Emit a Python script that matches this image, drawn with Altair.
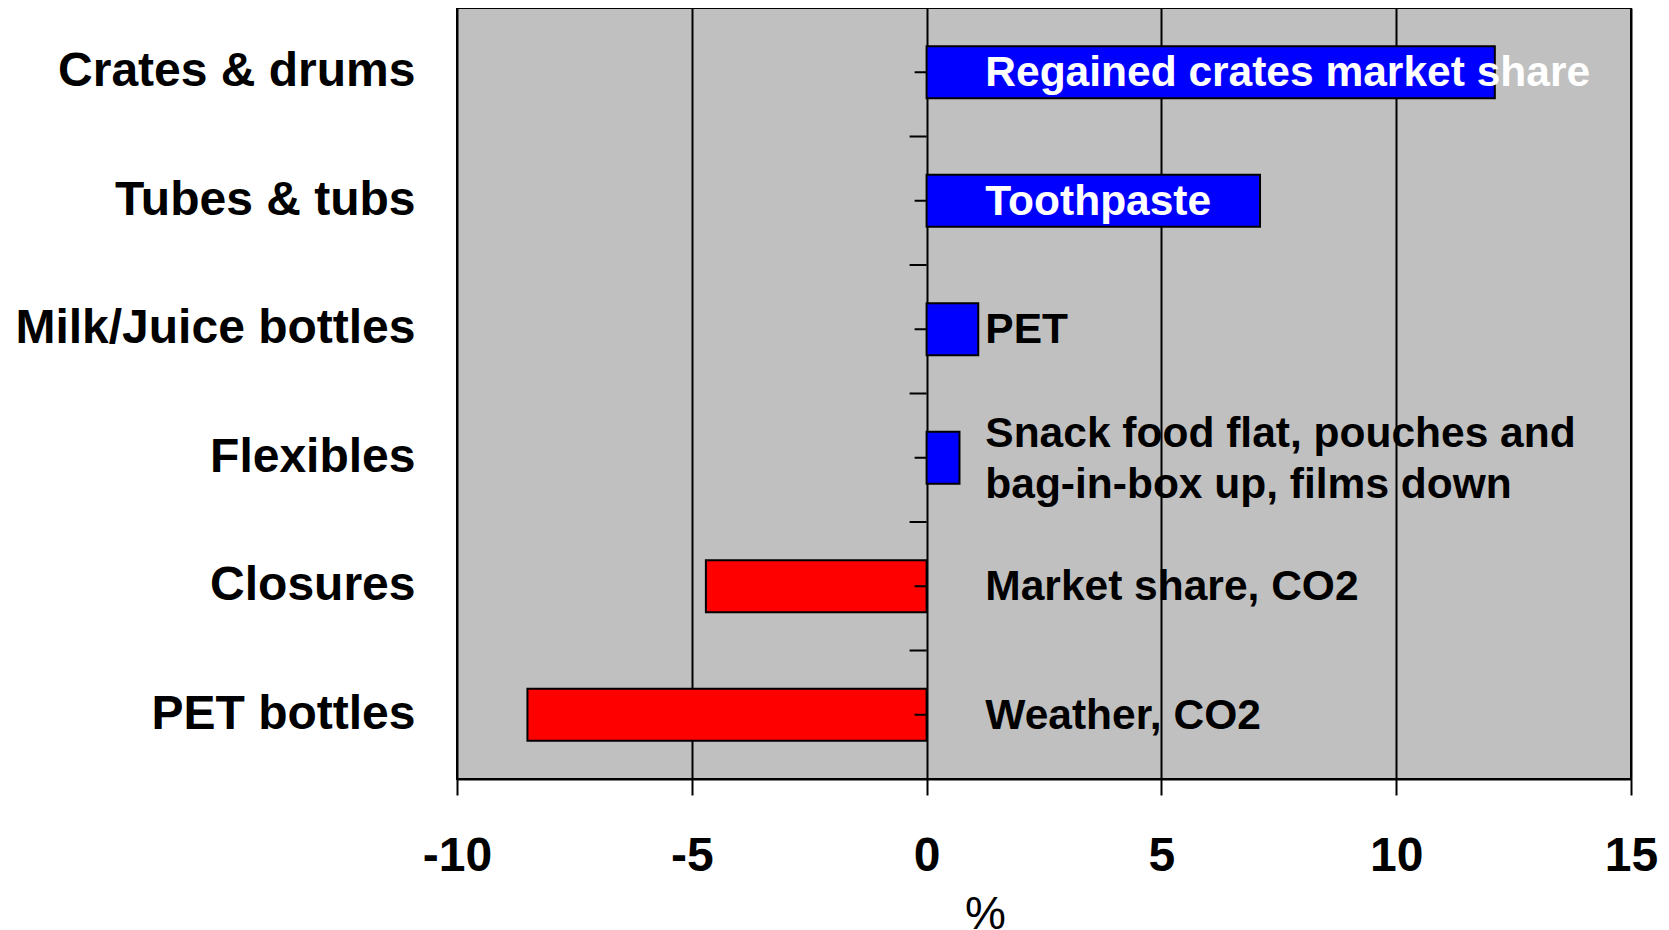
import altair as alt
import pandas as pd

categories = ["Crates & drums", "Tubes & tubs", "Milk/Juice bottles", "Flexibles", "Closures", "PET bottles"]
values = [12.1, 7.1, 1.1, 0.7, -4.7, -8.5]
notes = [
    "Regained crates market share",
    "Toothpaste",
    "PET",
    "Snack food flat, pouches and\nbag-in-box up, films down",
    "Market share, CO2",
    "Weather, CO2",
]
note_colors = ["white", "white", "black", "black", "black", "black"]
bar_colors = ["#0000FF", "#0000FF", "#0000FF", "#0000FF", "#FF0000", "#FF0000"]
x_ticks = [-10, -5, 0, 5, 10, 15]
note_x = 1.25

df = pd.DataFrame({
    "category": categories,
    "value": values,
    "note": notes,
    "note_color": note_colors,
    "bar_color": bar_colors,
})

FONT = "Liberation Sans"

xscale = alt.Scale(domain=[-10, 15], nice=False, zero=False)
yscale = alt.Scale(domain=categories, paddingInner=0, paddingOuter=0)

x_enc = alt.X(
    "value:Q",
    scale=xscale,
    axis=alt.Axis(
        values=x_ticks,
        title="%",
        grid=True,
        gridColor="black",
        gridWidth=2,
        gridOpacity=1,
        domain=True,
        domainColor="black",
        domainWidth=2,
        ticks=True,
        tickColor="black",
        tickWidth=2,
        tickSize=16,
        labelExpr="'' + datum.value",
        labelFont=FONT,
        labelFontSize=48,
        labelFontWeight="bold",
        labelColor="black",
        labelPadding=37,
        labelFlush=False,
        labelOverlap=False,
        titleFont=FONT,
        titleFontSize=46,
        titleFontWeight="normal",
        titleColor="black",
        titleX=528,
        titleY=149,
        titleAlign="center",
        titleBaseline="alphabetic",
    ),
)

y_enc = alt.Y(
    "category:N",
    sort=categories,
    scale=yscale,
    axis=alt.Axis(
        title=None,
        domain=False,
        ticks=False,
        grid=False,
        labelFont=FONT,
        labelFontSize=48,
        labelFontWeight="bold",
        labelColor="black",
        labelPadding=42,
        labelLimit=600,
    ),
)

base = alt.Chart(df)

bars = base.mark_bar(size=52, stroke="black", strokeWidth=2).encode(
    x=x_enc,
    y=y_enc,
    color=alt.Color("bar_color:N", scale=None),
)

center_ticks = base.mark_rule(color="black", strokeWidth=2, xOffset=-12).encode(
    x=alt.datum(0),
    x2=alt.datum(0),
    y=alt.Y("category:N", sort=categories),
)

boundary_ticks = base.transform_filter(
    alt.datum.category != categories[0]
).mark_rule(color="black", strokeWidth=2, xOffset=-17).encode(
    x=alt.datum(0),
    x2=alt.datum(0),
    y=alt.Y("category:N", sort=categories, bandPosition=0),
)

text_style = dict(
    align="left",
    baseline="middle",
    font=FONT,
    fontSize=42.5,
    fontWeight="bold",
    lineBreak="\n",
    lineHeight=51,
)

text_enc = dict(
    x=alt.datum(note_x),
    y=alt.Y("category:N", sort=categories),
    text="note:N",
    color=alt.Color("note_color:N", scale=None),
)

texts_single = base.transform_filter(
    alt.datum.category != "Flexibles"
).mark_text(dy=1, **text_style).encode(**text_enc)

texts_multi = base.transform_filter(
    alt.datum.category == "Flexibles"
).mark_text(dy=-24, **text_style).encode(**text_enc)

chart = (
    alt.layer(bars, center_ticks, boundary_ticks, texts_single, texts_multi)
    .properties(
        width=1174,
        height=771,
        autosize=alt.AutoSizeParams(type="none"),
        padding={"left": 449, "top": 0, "right": 30, "bottom": 160},
        background="white",
    )
    .configure_view(fill="#C0C0C0", stroke="black", strokeWidth=2)
)

chart.save("out.html", embed_options={"renderer": "svg", "actions": False})
